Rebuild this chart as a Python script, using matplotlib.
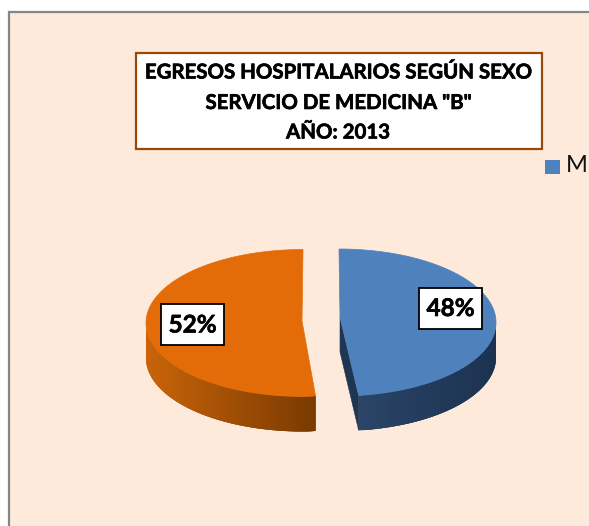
import numpy as np
import matplotlib
matplotlib.use("Agg")
import matplotlib.pyplot as plt
import matplotlib.patheffects as pe
from matplotlib.patches import Rectangle, Polygon
from matplotlib.colors import to_rgb

title_lines = ['EGRESOS HOSPITALARIOS SEGÚN SEXO', 'SERVICIO DE MEDICINA "B"', 'AÑO: 2013']
legend_label = 'M'
values = [48, 52]
top_colors = ['#4F81BD', '#E36C09']
side_left = ['#2A4568', '#C96409']
side_right = ['#1C3250', '#793A01']

plt.rcParams['font.family'] = ['Lato', 'DejaVu Sans']
fig = plt.figure(figsize=(5.89, 5.26), dpi=100, facecolor='white')
ax = fig.add_axes([0, 0, 1, 1])
ax.set_xlim(0, 589)
ax.set_ylim(526, 0)
ax.axis('off')

heavy = [pe.withStroke(linewidth=0.45, foreground='black')]

# panel
ax.add_patch(Rectangle((9, 12), 620, 560, fc='#FDEADA', ec='#868686', lw=1.6))

# title box
ax.add_patch(Rectangle((135.5, 53), 406, 96, fc='white', ec='#984807', lw=1.6, zorder=5))
for line, y in zip(title_lines, [72.5, 103, 132.5]):
    ax.text(338, y, line, ha='center', va='center', fontsize=14.7, fontweight='bold',
            color='black', zorder=6, path_effects=heavy)

# legend (cut by the image edge)
ax.add_patch(Rectangle((545, 159.5), 15, 14, fc=top_colors[0], ec='none'))
ax.text(566, 166, legend_label, ha='left', va='center', fontsize=17, color='#111111', clip_on=True)

# exploded pseudo-3D pie: angles come from the values
RY, DEPTH = 73.5, 35
geom = [dict(cx=339, cy=322.5, ax=340, ay=317, rl=157, rr=157),
        dict(cx=303, cy=323.0, ax=302, ay=321, rl=157, rr=100)]
fracs = np.array(values) / sum(values)
starts = np.concatenate([[0], np.cumsum(fracs)[:-1]]) * 2 * np.pi
ends = np.cumsum(fracs) * 2 * np.pi


def arc(g, t):
    s = np.sin(t)
    return g['cx'] + np.where(s >= 0, g['rr'], g['rl']) * s, g['cy'] - RY * np.cos(t)


for i, g in enumerate(geom):
    t = np.linspace(starts[i], ends[i], 120)
    x, y = arc(g, t)
    # curved side wall, only where the rim faces the viewer
    vis = np.cos(t) <= 0.02
    xv, yv = x[vis], y[vis]
    if xv[0] > xv[-1]:
        xv, yv = xv[::-1], yv[::-1]
    c0, c1 = np.array(to_rgb(side_left[i])), np.array(to_rgb(side_right[i]))
    lo, hi = xv.min(), xv.max()
    # painted left to right, each strip running on under the next one, so no seams show
    for k in range(len(xv) - 1):
        f = ((xv[k] + xv[k + 1]) / 2 - lo) / (hi - lo)
        col = c0 + (c1 - c0) * f
        e = min(k + 3, len(xv) - 1)
        wall = np.r_[np.column_stack([xv[k:e + 1], yv[k:e + 1]]),
                     np.column_stack([xv[k:e + 1], yv[k:e + 1] + DEPTH])[::-1]]
        ax.add_patch(Polygon(wall, fc=col, ec='none', lw=0, zorder=2))
    # cut face visible for the right-hand slice
    if i == 0:
        ax.add_patch(Polygon([(g['ax'], g['ay']), (x[-1], y[-1]), (x[-1], y[-1] + DEPTH),
                              (g['ax'], g['ay'] + DEPTH)], fc='#1F3653', ec='#1F3653',
                             lw=0.4, zorder=2))
    pts = np.column_stack([np.r_[g['ax'], x], np.r_[g['ay'], y]])
    ax.add_patch(Polygon(pts, fc=top_colors[i], ec=top_colors[i], lw=0.5, zorder=3))

# data labels
for v, (bx, by) in zip(values, [(419, 287.5), (161, 304)]):
    ax.add_patch(Rectangle((bx, by), 63, 41, fc='white', ec='black', lw=1.3, zorder=5))
    ax.text(bx + 31.5, by + 21, f'{v}%', ha='center', va='center', fontsize=17.5,
            fontweight='bold', color='black', zorder=6, path_effects=heavy)

fig.savefig('out.png', dpi=100)
